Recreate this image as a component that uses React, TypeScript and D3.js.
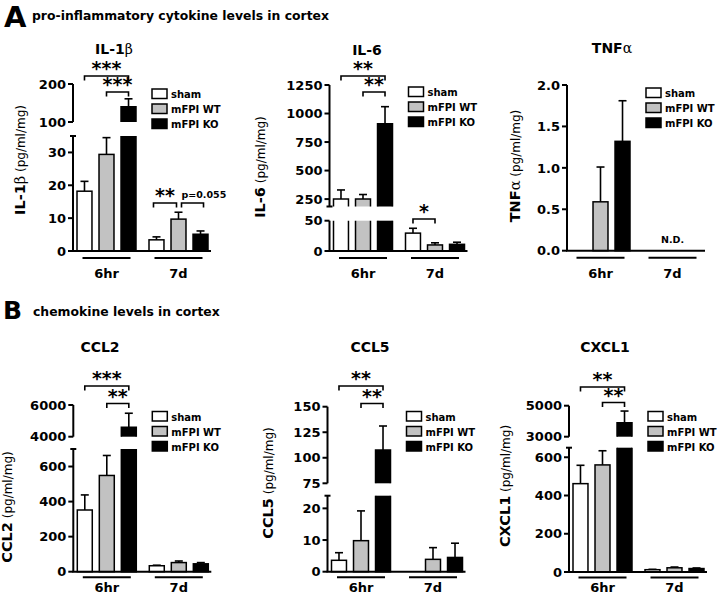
import React from "react";
import * as d3 from "d3";

const groups = ["6hr", "7d"];
const series = ["sham", "mFPI WT", "mFPI KO"];
const fills = ["#ffffff", "#c2c2c2", "#000000"];

// means and SEMs: one row per time point, one column per series (null = not detected)
const il1bMean = [[18.2, 29.4, 140], [3.4, 9.7, 5.1]];
const il1bSem = [[3.0, 5.1, 21], [0.9, 2.1, 1.0]];
const il6Mean = [[250, 250, 910], [29.5, 10, 11]];
const il6Sem = [[80, 40, 150], [8, 3.5, 3.5]];
const tnfMean = [[null, 0.59, 1.32], [null, null, null]];
const tnfSem = [[0, 0.42, 0.49], [0, 0, 0]];
const ccl2Mean = [[352, 549, 4600], [34, 52, 45]];
const ccl2Sem = [[86, 114, 880], [3, 9, 7]];
const ccl5Mean = [[3.6, 9.8, 107.6], [null, 3.9, 4.5]];
const ccl5Sem = [[2.4, 9.4, 23.5], [0, 3.7, 4.5]];
const cxcl1Mean = [[462, 560, 3900], [12, 22, 18]];
const cxcl1Sem = [[96, 74, 755], [2, 4, 3]];

// axis ticks (lower / upper segment of broken axes)
const il1bLowTicks = [0, 10, 20, 30];
const il1bHighTicks = [100, 200];
const il6LowTicks = [0, 50];
const il6HighTicks = [250, 500, 750, 1000, 1250];
const tnfTicks = [0, 0.5, 1, 1.5, 2];
const ccl2LowTicks = [0, 200, 400, 600];
const ccl2HighTicks = [4000, 6000];
const ccl5LowTicks = [0, 10, 20];
const ccl5HighTicks = [75, 100, 125, 150];
const cxcl1LowTicks = [0, 200, 400, 600];
const cxcl1HighTicks = [3000, 5000];

const SANS = "'DejaVu Sans', sans-serif";
const SERIF = "'DejaVu Serif', serif";

const panels = [
  {
    title: "IL-1", greek: "β", mean: il1bMean, sem: il1bSem,
    lowDomain: [0, 35], lowTicks: il1bLowTicks, highDomain: [100, 200], highTicks: il1bHighTicks,
    x: 73, y0: 251, lowTop: 136, highRange: [122, 84],
    titleX: 114, titleY: 54, labelX: 25, labelY: 160, legendY: 89, lineDy: 7, labelDy: 27,
    brackets: [
      { from: [0, 0], to: [0, 2], y: 76, text: "***" },
      { from: [0, 1], to: [0, 2], y: 92, text: "***" },
      { from: [1, 0], to: [1, 1], y: 203, text: "**", pad: [-3, -2] },
      { from: [1, 1], to: [1, 2], y: 203, text: "p=0.055", pad: [3, 3], small: true },
    ],
  },
  {
    title: "IL-6", mean: il6Mean, sem: il6Sem,
    lowDomain: [0, 50], lowTicks: il6LowTicks, highDomain: [185, 1250], highTicks: il6HighTicks,
    x: 329.5, y0: 251, lowTop: 220.7, highRange: [206.5, 85],
    titleX: 367, titleY: 55, labelX: 265, labelY: 167, legendY: 87, lineDy: 7, labelDy: 27,
    brackets: [
      { from: [0, 0], to: [0, 2], y: 76, text: "**" },
      { from: [0, 1], to: [0, 2], y: 92, text: "**" },
      { from: [1, 0], to: [1, 1], y: 219, text: "*" },
    ],
  },
  {
    title: "TNF", greek: "α", mean: tnfMean, sem: tnfSem, nd: true,
    lowDomain: [0, 2], lowTicks: tnfTicks, tickFormat: ".1f",
    x: 567, y0: 250.7, lowTop: 85,
    titleX: 612, titleY: 53, labelX: 520, labelY: 166, legendY: 88, lineDy: 7, labelDy: 27,
    brackets: [],
  },
  {
    title: "CCL2", mean: ccl2Mean, sem: ccl2Sem,
    lowDomain: [0, 700], lowTicks: ccl2LowTicks, highDomain: [4000, 6000], highTicks: ccl2HighTicks,
    x: 73.3, y0: 571.7, lowTop: 449, highRange: [436.7, 405],
    titleX: 100, titleY: 352, labelX: 11.5, labelY: 507, legendY: 411.5, lineDy: 5.6, labelDy: 20,
    brackets: [
      { from: [0, 0], to: [0, 2], y: 386, text: "***" },
      { from: [0, 1], to: [0, 2], y: 403.5, text: "**" },
    ],
  },
  {
    title: "CCL5", mean: ccl5Mean, sem: ccl5Sem,
    lowDomain: [0, 24], lowTicks: ccl5LowTicks, highDomain: [75, 150], highTicks: ccl5HighTicks,
    x: 327.5, y0: 571.7, lowTop: 495.7, highRange: [483.3, 406.7],
    titleX: 370, titleY: 352, labelX: 273, labelY: 483, legendY: 411.5, lineDy: 5.6, labelDy: 20,
    brackets: [
      { from: [0, 0], to: [0, 2], y: 386, text: "**" },
      { from: [0, 1], to: [0, 2], y: 403.5, text: "**" },
    ],
  },
  {
    title: "CXCL1", mean: cxcl1Mean, sem: cxcl1Sem,
    lowDomain: [0, 650], lowTicks: cxcl1LowTicks, highDomain: [3000, 5000], highTicks: cxcl1HighTicks,
    x: 569, y0: 572, lowTop: 447.7, highRange: [436.7, 405.7],
    titleX: 605, titleY: 352, labelX: 510, labelY: 486, legendY: 411.5, lineDy: 5.6, labelDy: 20,
    brackets: [
      { from: [0, 0], to: [0, 2], y: 387, text: "**" },
      { from: [0, 1], to: [0, 2], y: 402.5, text: "**" },
    ],
  },
];

function Panel({ p }: { p: any }) {
  const x0 = d3.scaleBand<string>().domain(groups).range([p.x, p.x + 144]);
  const x1 = d3.scaleBand<string>().domain(series).range([4, 63]).paddingInner(0.32);
  const bw = x1.bandwidth();
  const yLow = d3.scaleLinear().domain(p.lowDomain).range([p.y0, p.lowTop]);
  const yHigh = p.highDomain ? d3.scaleLinear().domain(p.highDomain).range(p.highRange) : null;
  const lowMax = p.lowDomain[1];
  const fmt = p.tickFormat ? d3.format(p.tickFormat) : (d: number) => String(d);
  const cx = (g: number, s: number) => x0(groups[g])! + x1(series[s])! + bw / 2;
  const yOf = (v: number) => (yHigh && v > lowMax ? yHigh(v) : yLow(Math.min(v, lowMax)));
  const groupCenter = (g: string) => x0(g)! + 33.5;

  const tick = (y: number, t: number, key: string) => (
    <g key={key}>
      <line x1={p.x - 5} x2={p.x} y1={y} y2={y} stroke="#000" strokeWidth={2} />
      <text x={p.x - 7} y={y} dy="0.36em" textAnchor="end" fontFamily={SANS} fontWeight="bold" fontSize={13}>
        {fmt(t)}
      </text>
    </g>
  );

  return (
    <g>
      {/* title */}
      <text x={p.titleX} y={p.titleY} textAnchor="middle" fontFamily={SANS} fontWeight="bold" fontSize={14}>
        {p.title}
        {p.greek && <tspan fontFamily={SERIF} fontWeight="normal" fontSize={14}>{p.greek}</tspan>}
      </text>

      {/* y label */}
      <text transform={`translate(${p.labelX},${p.labelY}) rotate(-90)`} textAnchor="middle" fontFamily={SANS}>
        <tspan fontWeight="bold" fontSize={14.5}>{p.title}</tspan>
        {p.greek && <tspan fontFamily={SERIF} fontSize={14.5}>{p.greek}</tspan>}
        <tspan fontSize={12}> (pg/ml/mg)</tspan>
      </text>

      {/* bars */}
      {groups.map((g, gi) =>
        series.map((s, si) => {
          const v = p.mean[gi][si];
          if (v == null) return null;
          const x = x0(g)! + x1(s)!;
          const broken = yHigh && v > lowMax;
          const yT = yOf(v);
          const yE = yOf(v + p.sem[gi][si]);
          const c = x + bw / 2;
          return (
            <g key={`${g}-${s}`}>
              <line x1={c} x2={c} y1={yT} y2={yE} stroke="#000" strokeWidth={1.6} />
              <line x1={c - 4} x2={c + 4} y1={yE} y2={yE} stroke="#000" strokeWidth={1.6} />
              {broken ? (
                <>
                  <rect x={x} y={p.lowTop} width={bw} height={p.y0 - p.lowTop} fill={fills[si]} />
                  <path d={`M${x},${p.lowTop}V${p.y0}H${x + bw}V${p.lowTop}`} fill="none" stroke="#000" strokeWidth={1.5} />
                  <rect x={x} y={yT} width={bw} height={p.highRange[0] - yT} fill={fills[si]} />
                  <path d={`M${x},${p.highRange[0]}V${yT}H${x + bw}V${p.highRange[0]}`} fill="none" stroke="#000" strokeWidth={1.5} />
                </>
              ) : (
                <rect x={x} y={yT} width={bw} height={p.y0 - yT} fill={fills[si]} stroke="#000" strokeWidth={1.5} />
              )}
            </g>
          );
        })
      )}

      {/* y axis, lower segment */}
      <line x1={p.x} x2={p.x} y1={p.y0} y2={p.lowTop} stroke="#000" strokeWidth={2} />
      {p.lowTicks.map((t: number) => tick(yLow(t), t, `l${t}`))}
      {yHigh && !p.lowTicks.includes(lowMax) && (
        <line x1={p.x - 3} x2={p.x + 3} y1={p.lowTop} y2={p.lowTop} stroke="#000" strokeWidth={2} />
      )}

      {/* y axis, upper segment */}
      {yHigh && (
        <>
          <line x1={p.x} x2={p.x} y1={p.highRange[0]} y2={p.highRange[1]} stroke="#000" strokeWidth={2} />
          {p.highTicks.map((t: number) => tick(yHigh(t), t, `h${t}`))}
          {!p.highTicks.includes(p.highDomain[0]) && (
            <line x1={p.x - 3} x2={p.x + 3} y1={p.highRange[0]} y2={p.highRange[0]} stroke="#000" strokeWidth={2} />
          )}
        </>
      )}

      {/* x axis */}
      <line x1={p.x - 1} x2={p.x + 138} y1={p.y0} y2={p.y0} stroke="#000" strokeWidth={2} />
      {groups.map((g) => (
        <g key={g}>
          <line x1={groupCenter(g) - 24} x2={groupCenter(g) + 24} y1={p.y0 + p.lineDy} y2={p.y0 + p.lineDy} stroke="#000" strokeWidth={2} />
          <text x={groupCenter(g)} y={p.y0 + p.labelDy} textAnchor="middle" fontFamily={SANS} fontWeight="bold" fontSize={13}>
            {g}
          </text>
        </g>
      ))}
      {p.nd && (
        <text x={groupCenter("7d")} y={p.y0 - 8} textAnchor="middle" fontFamily={SANS} fontWeight="bold" fontSize={9.5}>
          N.D.
        </text>
      )}

      {/* significance brackets */}
      {p.brackets.map((b: any, i: number) => {
        const bx1 = cx(b.from[0], b.from[1]) + (b.pad ? b.pad[0] : 0);
        const bx2 = cx(b.to[0], b.to[1]) + (b.pad ? b.pad[1] : 0);
        return (
          <g key={i}>
            <path d={`M${bx1},${b.y + 4.5}V${b.y}H${bx2}V${b.y + 4.5}`} fill="none" stroke="#000" strokeWidth={1.6} />
            {b.small ? (
              <text x={bx1} y={b.y - 5} fontFamily={SANS} fontWeight="bold" fontSize={9.5}>{b.text}</text>
            ) : (
              <text x={(bx1 + bx2) / 2} y={b.y - 1} textAnchor="middle" fontFamily={SANS} fontWeight="bold" fontSize={19}>
                {b.text}
              </text>
            )}
          </g>
        );
      })}

      {/* legend */}
      {series.map((s, si) => (
        <g key={s} transform={`translate(${p.x + 79},${p.legendY + si * 15})`}>
          <rect x={0} y={0} width={15} height={9.5} fill={fills[si]} stroke="#000" strokeWidth={1.5} />
          <text x={19} y={9} fontFamily={SANS} fontWeight="bold" fontSize={10}>{s}</text>
        </g>
      ))}
    </g>
  );
}

export default function App() {
  return (
    <svg width={720} height={598} style={{ position: "absolute", left: 0, top: 0, background: "#fff" }}>
      <text x={4} y={27} fontFamily={SANS} fontWeight="bold" fontSize={29}>A</text>
      <text x={32} y={20} fontFamily={SANS} fontWeight="bold" fontSize={12.4}>
        pro-inflammatory cytokine levels in cortex
      </text>
      <text x={3} y={319} fontFamily={SANS} fontWeight="bold" fontSize={25}>B</text>
      <text x={33} y={316} fontFamily={SANS} fontWeight="bold" fontSize={12.4}>
        chemokine levels in cortex
      </text>
      {panels.map((p, i) => (
        <Panel key={i} p={p} />
      ))}
    </svg>
  );
}
